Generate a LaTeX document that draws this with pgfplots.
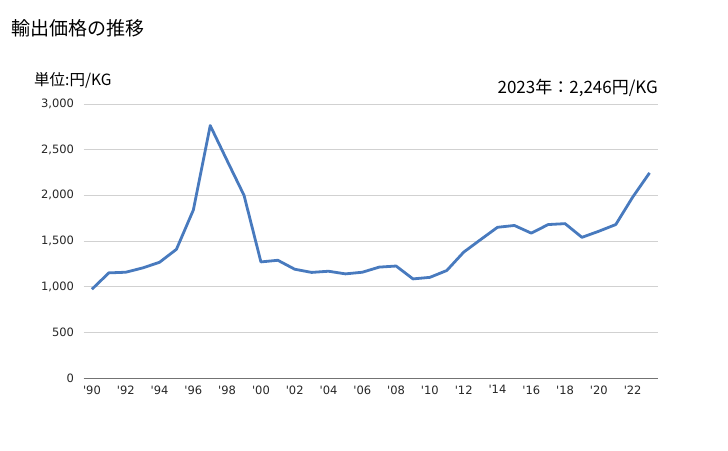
\documentclass[border=0pt]{standalone}
\usepackage{fontspec}
\setmainfont{Noto Sans CJK JP}
\newfontfamily\tickfont{DejaVu Sans}
\usepackage{pgfplots}
\pgfplotsset{compat=1.18}
\definecolor{lineblue}{RGB}{72,122,190}
\begin{document}
\begin{tikzpicture}
\useasboundingbox (0pt,0pt) rectangle (728pt,450pt);
\node[anchor=west,font=\fontsize{19}{21}\selectfont,inner sep=0] at (11pt,422pt) {輸出価格の推移};
\node[anchor=west,font=\fontsize{15.5}{17}\selectfont,inner sep=0] at (34pt,370pt) {単位:円/KG};
\node[anchor=east,font=\fontsize{17}{19}\selectfont,inner sep=0] at (658pt,362pt) {2023年：2,246円/KG};
\begin{axis}[
  at={(83.5pt,72pt)}, anchor=south west,
  scale only axis, width=574.5pt, height=274pt,
  xmin=1989.5, xmax=2023.5, ymin=0, ymax=3000,
  ytick={0,500,...,3000},
  xtick={1990,1992,...,2022},
  xticklabels={\textquotesingle90,\textquotesingle92,\textquotesingle94,\textquotesingle96,\textquotesingle98,\textquotesingle00,\textquotesingle02,\textquotesingle04,\textquotesingle06,\textquotesingle08,\textquotesingle10,\textquotesingle12,\textquotesingle14,\textquotesingle16,\textquotesingle18,\textquotesingle20,\textquotesingle22},
  ymajorgrids, grid style={draw=black!18, line width=0.8pt},
  separate axis lines,
  axis x line*=bottom, axis y line*=left,
  x axis line style={draw=black!55, line width=0.8pt, -},
  y axis line style={draw=none},
  major tick length=0pt,
  tick label style={font=\tickfont\fontsize{11.5}{13}\selectfont, text=black!85},
  /pgf/number format/assume math mode=true,
  /pgf/number format/1000 sep={,},
  scaled y ticks=false,
  yticklabel style={xshift=-6pt},
  xticklabel style={yshift=-4pt},
  clip=false,
]
\addplot[color=lineblue, line width=2.8pt, line join=round] coordinates {
(1990,972) (1991,1151) (1992,1158) (1993,1205) (1994,1267) (1995,1409)
(1996,1839) (1997,2764) (1998,2380) (1999,2000) (2000,1271) (2001,1289)
(2002,1191) (2003,1156) (2004,1169) (2005,1140) (2006,1158) (2007,1214)
(2008,1226) (2009,1085) (2010,1102) (2011,1177) (2012,1378) (2013,1515)
(2014,1650) (2015,1670) (2016,1586) (2017,1680) (2018,1690) (2019,1540)
(2020,1607) (2021,1680) (2022,1980) (2023,2246)
};
\end{axis}
\end{tikzpicture}
\end{document}
